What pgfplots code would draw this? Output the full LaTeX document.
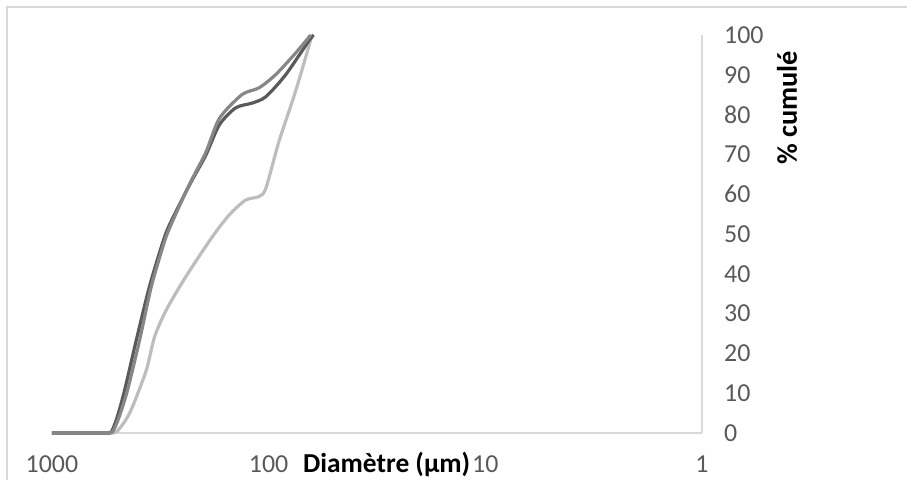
\documentclass[border=0pt]{standalone}
\usepackage{pgfplots}
\pgfplotsset{compat=1.18}
\usepackage{fontspec}
\setmainfont{Carlito}
\definecolor{cdark}{HTML}{5A5A5A}
\definecolor{cmid}{HTML}{878787}
\definecolor{clight}{HTML}{BDBDBD}
\definecolor{axgray}{HTML}{D9D9D9}
\definecolor{txtgray}{HTML}{595959}
\begin{document}
\begin{tikzpicture}
\path[use as bounding box] (-52bp,-47bp) rectangle (855bp,433bp);
\draw[axgray, line width=1.5bp] (-45bp,-47bp) -- (-45bp,426bp) -- (855bp,426bp);
\begin{axis}[
  at={(0,0)}, anchor=south west,
  scale only axis, width=650bp, height=398bp,
  xmode=log, x dir=reverse, xmin=1, xmax=1000,
  ymin=0, ymax=100,
  axis x line*=bottom, axis y line*=right,
  axis line style={draw=axgray, line width=1.5bp},
  xtick={1,10,100,1000}, xticklabels={1,10,100,1000},
  ytick={0,10,...,100},
  major tick length=0pt, minor tick length=0pt,
  tick style={draw=none},
  ticklabel style={font=\fontsize{26}{30}\selectfont, text=txtgray},
  /pgf/number format/assume math mode=true,
  xticklabel style={anchor=base, inner sep=0pt, yshift=-39bp},
  yticklabel style={anchor=west, inner sep=0pt, xshift=22bp},
  xlabel={\textbf{Diamètre (µm)}},
  xlabel style={at={(rel axis cs:0.515,0)}, anchor=base, inner sep=0pt, yshift=-39bp, font=\fontsize{27.5}{32}\selectfont},
  clip=false,
  every axis plot/.append style={line width=3.2bp, smooth, tension=0.45, no markers},
]
\addplot[clight] coordinates {
(1000,0) (800,0) (600,0) (540,0) (504,0.3) (460,3) (425,6.6) (367,15.8) (336,24.2)
(297,30.9) (241,39.3) (182,49.3) (152,54.8) (128,58.5) (111,59.4) (103,61.5)
(89.7,73.2) (75.2,85.8) (63,100)
};
\addplot[cdark] coordinates {
(1000,0) (800,0) (600,0) (560,0) (532,0.3) (500,4) (462,10.8) (408,23.4) (355,36.8)
(309,47.7) (287,52.3) (232,62.3) (195,69.8) (169,77.4) (142,81.7) (119,82.9)
(103,84.5) (83.5,90) (65.3,98.5) (62,100)
};
\addplot[cmid] coordinates {
(1000,0) (800,0) (600,0) (555,0) (525,0.3) (490,4) (448,10.8) (394,23.4) (348,36.8)
(305,47.5) (284,52) (232,62.5) (195,70.5) (169,79) (133,85) (111,86.7)
(93,90) (75,95.5) (64,100)
};
\node[rotate=90, font=\fontsize{28.5}{33}\selectfont\bfseries] at (rel axis cs:1.131,0.817) {\%~cumulé};
\end{axis}
\end{tikzpicture}
\end{document}
